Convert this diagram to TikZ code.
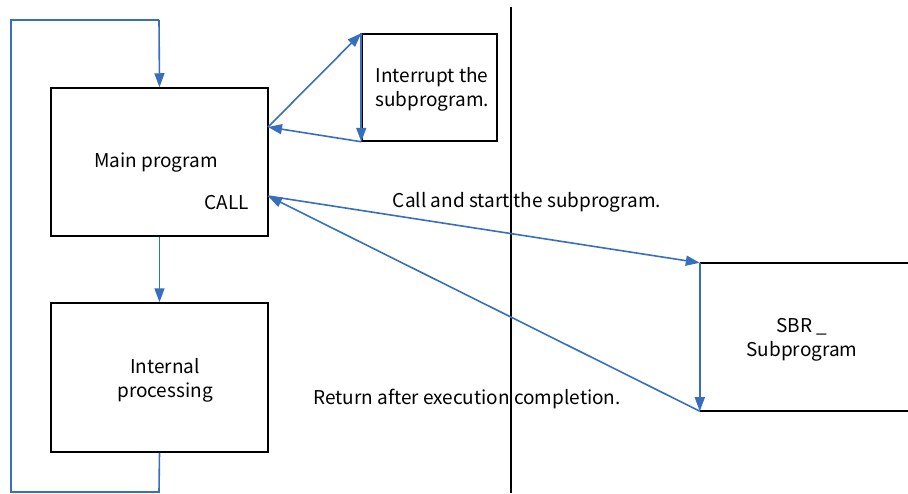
\documentclass[tikz,border=0pt]{standalone}
\usepackage{fontspec}
\setmainfont{Noto Sans CJK SC}
\usetikzlibrary{arrows.meta}
\definecolor{flowblue}{RGB}{56,110,190}
\tikzset{
  box/.style={draw=black, line width=1.5pt, inner sep=0pt},
  txt/.style={font=\fontsize{19}{24}\selectfont, align=center, inner sep=0pt},
  flow/.style={draw=flowblue, line width=1.6pt, -{Triangle[length=14pt,width=10pt]}},
  flowline/.style={draw=flowblue, line width=1.6pt},
}
\begin{document}
\begin{tikzpicture}[x=1pt,y=-1pt]
\useasboundingbox (0,0) rectangle (908,493);
% boxes
\node[box, minimum width=217pt, minimum height=148pt] (main) at (159.5,162) {};
\node[box, minimum width=217pt, minimum height=149pt] (intp) at (159.5,377.5) {};
\node[box, minimum width=135pt, minimum height=107pt] (irq) at (429.5,87.5) {};
\node[minimum width=210pt, minimum height=148pt, inner sep=0pt] (sbr) at (805,337) {};
\draw[black, line width=1.5pt] (sbr.north west) -- (sbr.north east);
\draw[black, line width=1.5pt] (sbr.south west) -- (sbr.south east);
% divider
\coordinate (dtop) at (511,7);
\coordinate (dbot) at (511,493);
\draw[black, line width=1.5pt] (dtop) -- (dbot);
% texts
\node[txt] (tmain) at (156,163) {Main program};
\node[txt] (tcall) at (227,203) {CALL};
\node[txt] (tint) at (165,380) {Internal\\processing};
\node[txt] (tirq) at (432,89) {Interrupt the\\subprogram.};
\node[txt] (tsbr) at (802,340) {SBR \_\\Subprogram};
\node[txt] (lcall) at (527,202) {Call and start the subprogram.};
\node[txt] (lret) at (467,399) {Return after execution completion.};
% connector points
\coordinate (m1) at (268,127);
\coordinate (m2) at (268,196);
\coordinate (ib) at (159,492);
\coordinate (lb) at (11,492);
\coordinate (lt) at (11,20);
\coordinate (tt) at (159,20);
% flows
\draw[flow] (m1) -- (irq.north west);
\draw[flow] (irq.north west) -- (irq.south west);
\draw[flow] (irq.south west) -- (m1);
\draw[flow] (m2) -- (sbr.north west);
\draw[flow] (sbr.north west) -- (sbr.south west);
\draw[flow] (sbr.south west) -- (m2);
\draw[flow] (main.south) -- (intp.north);
\draw[flowline] (intp.south) -- (ib) -- (lb) -- (lt) -- (tt);
\draw[flow] (tt) -- (main.north);
\end{tikzpicture}
\end{document}
